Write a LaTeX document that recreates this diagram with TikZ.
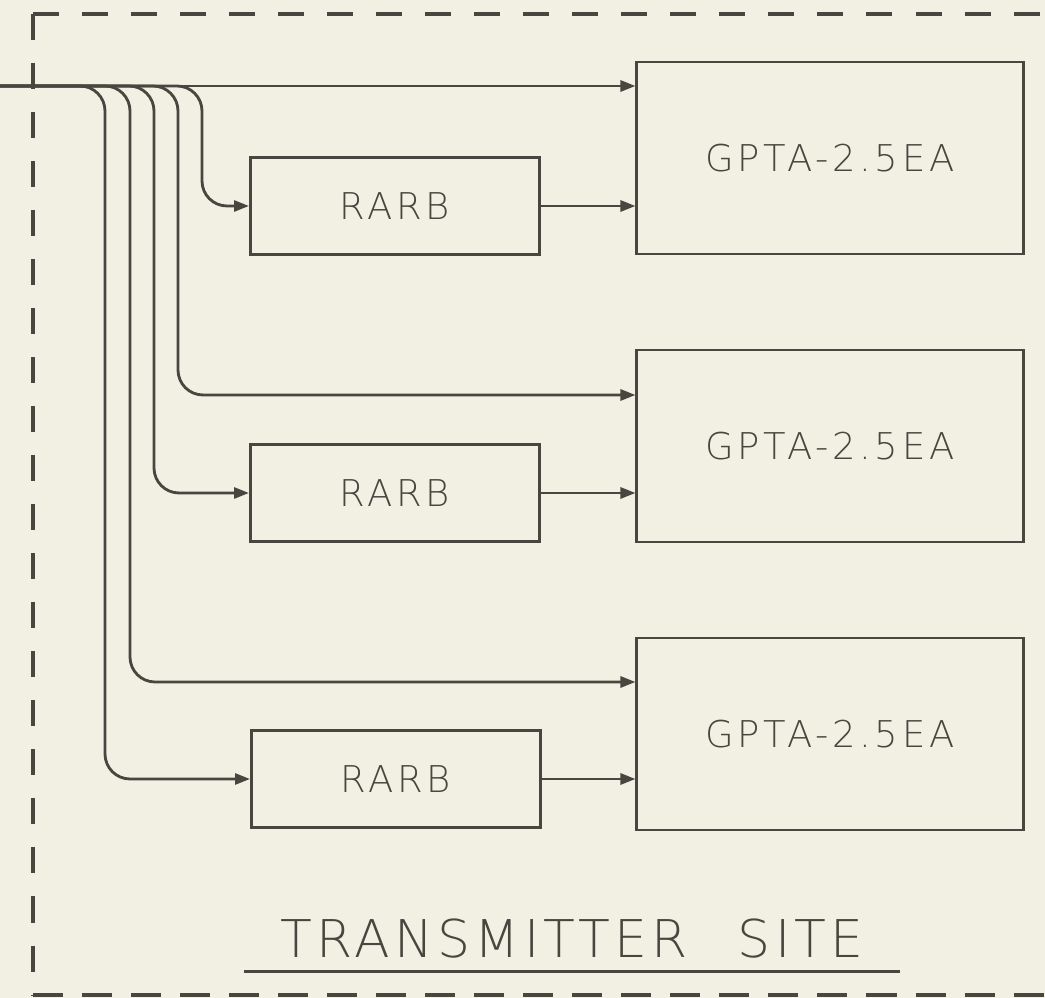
\documentclass[tikz,border=0pt]{standalone}
\usepackage{fontspec}
\setmainfont{DejaVu Sans ExtraLight}
\usetikzlibrary{arrows.meta,calc}
\definecolor{paper}{HTML}{F2F0E3}
\definecolor{ink}{HTML}{47473F}
\tikzset{blk/.style={draw=ink,line width=0.8pt,minimum width=2.89cm,minimum height=0.97cm,inner sep=0pt,text=ink,font=\addfontfeatures{LetterSpace=10}\fontsize{10.5}{12}\selectfont},rarb/.style={blk},gpta/.style={blk,minimum width=3.86cm,minimum height=1.92cm},feed/.style={draw=ink,line width=0.8pt,rounded corners=0.25cm,-{Triangle[length=1.5mm,width=1.1mm]}},frame/.style={draw=ink,line width=0.9pt,dash pattern=on 0.26cm off 0.23cm},title/.style={text=ink,inner xsep=0pt,inner ysep=0.13cm,text depth=0pt,minimum width=6.55cm,font=\addfontfeatures{LetterSpace=8}\fontsize{14.8}{17}\selectfont}}

\begin{document}
\begin{tikzpicture}[x=0.01cm,y=-0.01cm]
\useasboundingbox[fill=paper] (0,0) rectangle (1045,998);
% site boundary
\coordinate (ctl) at (33,14);\coordinate (cbl) at (33,995);
\draw[frame] (ctl) -- (1045,14);\draw[frame] (ctl) -- (cbl);\draw[frame,line width=1.1pt,dash pattern=on 0.3cm off 0.19cm] (cbl) -- (1045,995);
% units
\node[gpta] (gpta1) at (830,158) {GPTA-2.5EA};\node[gpta] (gpta2) at (830,446) {GPTA-2.5EA};\node[gpta] (gpta3) at (830,734) {GPTA-2.5EA};
\node[rarb] (rarb1) at (395,206) {RARB};\node[rarb] (rarb2) at (395,493) {RARB};\node[rarb] (rarb3) at (396,779) {RARB};
% feed line and taps
\coordinate (in) at (0,86);
\coordinate (t1) at (202,86);\coordinate (t2) at (178,86);\coordinate (t3) at (154,86);\coordinate (t4) at (130,86);\coordinate (t5) at (105,86);
\coordinate (g2in) at ($(gpta2.west)+(0,-51)$);\coordinate (g3in) at ($(gpta3.west)+(0,-52)$);
\draw[feed] (in) -- (in -| gpta1.west);
\draw[feed] (in) -- (t1) -- (t1 |- rarb1.west) -- (rarb1.west);
\draw[feed] (in) -- (t2) -- (t2 |- g2in) -- (g2in);
\draw[feed] (in) -- (t3) -- (t3 |- rarb2.west) -- (rarb2.west);
\draw[feed] (in) -- (t4) -- (t4 |- g3in) -- (g3in);
\draw[feed] (in) -- (t5) -- (t5 |- rarb3.west) -- (rarb3.west);
\draw[feed] (rarb1.east) -- (rarb1.east -| gpta1.west);\draw[feed] (rarb2.east) -- (rarb2.east -| gpta2.west);\draw[feed] (rarb3.east) -- (rarb3.east -| gpta3.west);
% caption
\node[title,anchor=base] (site) at (572,958) {TRANSMITTER\hspace{0.5cm}SITE};
\draw[ink,line width=0.8pt] (site.south west) -- (site.south east);
\end{tikzpicture}
\end{document}
